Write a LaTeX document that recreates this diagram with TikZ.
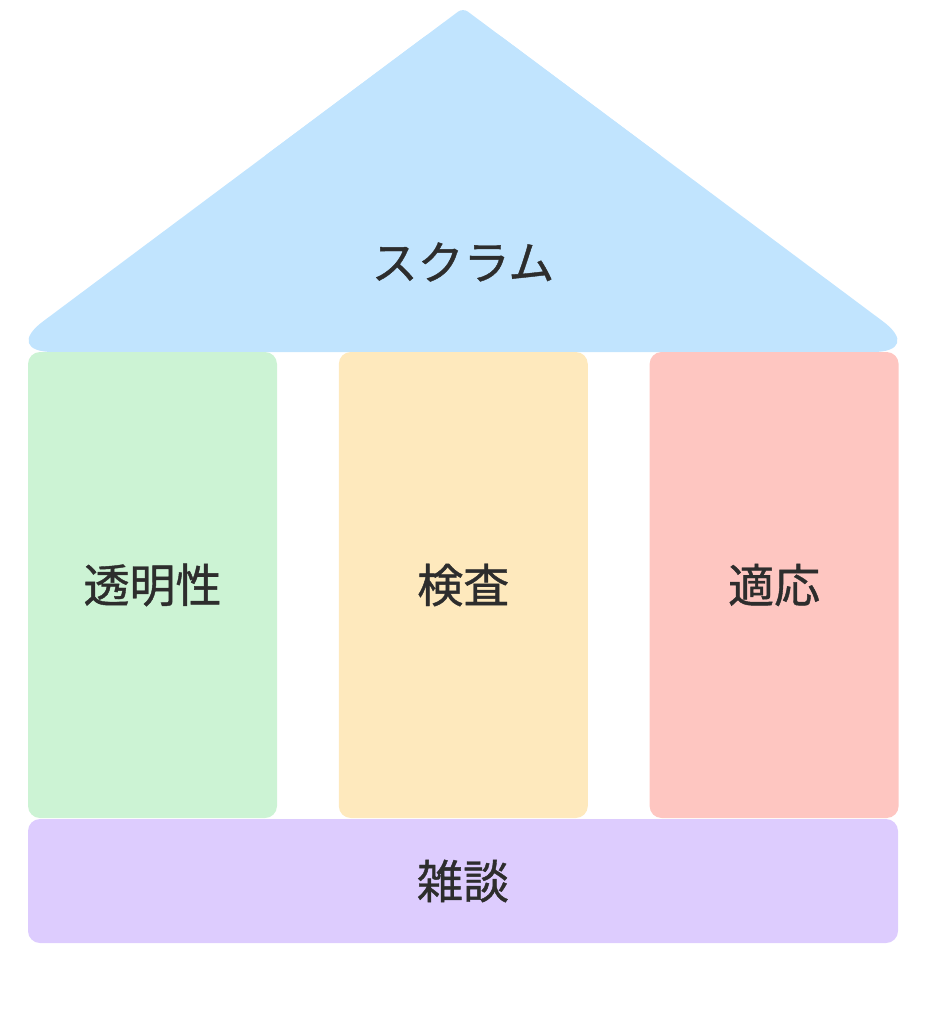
\documentclass[tikz,border=0pt]{standalone}
\usepackage{fontspec}
\setmainfont{Noto Sans CJK JP}[FakeBold=0.9]
\usetikzlibrary{positioning}
\definecolor{roofblue}{HTML}{C1E4FE}
\definecolor{pgreen}{HTML}{CCF3D4}
\definecolor{pyellow}{HTML}{FEE9BD}
\definecolor{pred}{HTML}{FEC6C1}
\definecolor{baselilac}{HTML}{DDCCFE}
\definecolor{inkgray}{HTML}{2D2D2D}

\begin{document}
\begin{tikzpicture}[x=0.5pt, y=-0.5pt,
    label text/.style={text=inkgray, font=\fontsize{23}{27}\selectfont},
    pillar/.style={label text, rounded corners=6pt, inner sep=0pt,
        minimum width=124.5pt, minimum height=233pt},
    floor/.style={label text, rounded corners=6pt, inner sep=0pt,
        minimum width=435pt, minimum height=62pt}]
    \useasboundingbox (0, 0) rectangle (930, 1024); % page size
    % roof: wide round ends at the eaves, small round tip
    \fill[roofblue, rounded corners=25.5pt] (2, 352) -- (463, 8) -- (924, 352) -- cycle;
    \fill[roofblue, rounded corners=3pt] (262, 158) -- (463, 8) -- (664, 158) -- cycle;
    \node[label text] (scrum) at (463, 262) {スクラム};
    % pillars
    \node[pillar, fill=pgreen] (transparency) at (152.5, 585) {透明性};
    \node[pillar, fill=pyellow, right=30.5pt of transparency] (inspection) {検査};
    \node[pillar, fill=pred, right=30.5pt of inspection] (adaptation) {適応};
    % base
    \node[floor, fill=baselilac] (chat) at (463, 881) {雑談};
\end{tikzpicture}
\end{document}
